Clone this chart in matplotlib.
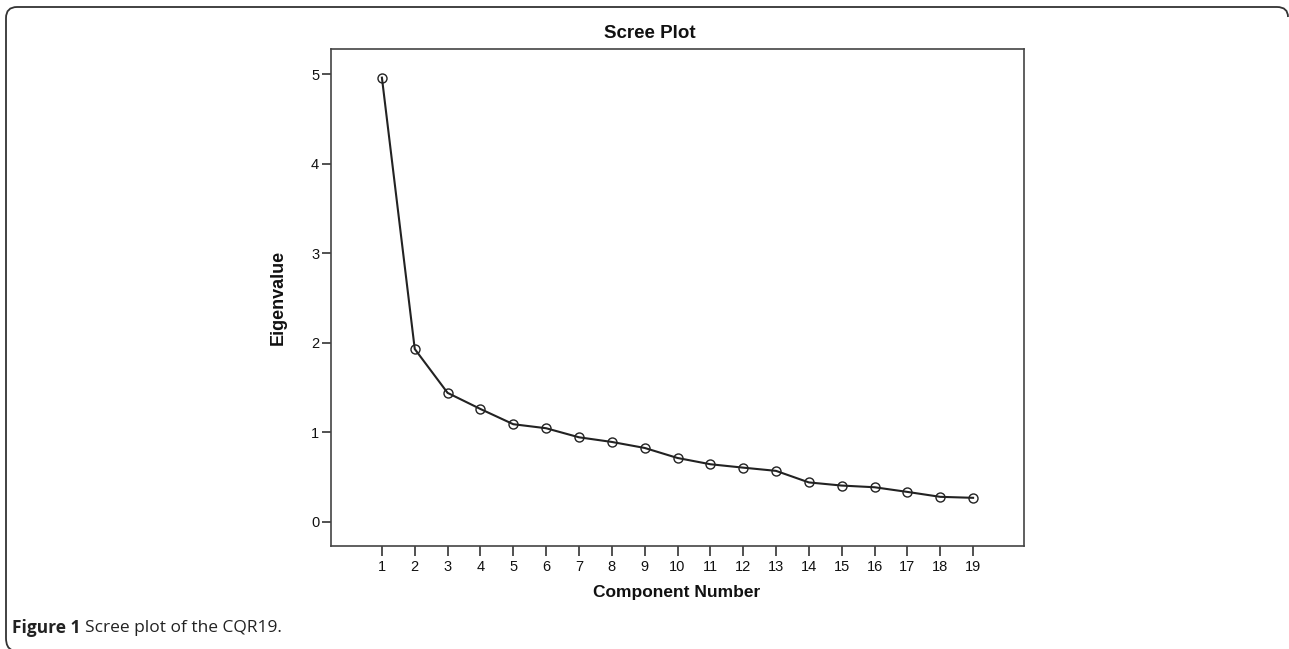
import matplotlib
matplotlib.use("Agg")
import matplotlib.pyplot as plt
from matplotlib.path import Path
from matplotlib.patches import PathPatch

# Scree plot data (eigenvalues per component)
components = list(range(1, 20))
eigenvalues = [4.96, 1.93, 1.44, 1.26, 1.09, 1.045, 0.944, 0.892, 0.825, 0.713,
               0.643, 0.605, 0.569, 0.44, 0.405, 0.386, 0.334, 0.279, 0.268]
tick_labels = [str(c) for c in components]

W, H = 1289, 649
fig = plt.figure(figsize=(W / 100, H / 100), dpi=100)
fig.patch.set_facecolor("white")

# axes box in pixel coordinates
left, right, top, bottom = 331, 1024, 49, 546
ax = fig.add_axes([left / W, 1 - bottom / H, (right - left) / W, (bottom - top) / H])

dark = "#222222"
ax.plot(components, eigenvalues, color=dark, linewidth=1.5,
        marker="o", markersize=6.5, markerfacecolor="none",
        markeredgecolor=dark, markeredgewidth=1.0)

ax.set_xlim(-0.55, 20.55)
ax.set_ylim(-0.27, 5.28)
ax.set_xticks(components)
ax.set_xticklabels(tick_labels)
ax.set_yticks([0, 1, 2, 3, 4, 5])

for s in ax.spines.values():
    s.set_color("#444444")
    s.set_linewidth(1.2)

ax.tick_params(axis="x", direction="out", length=7, width=1.2, color="#333333",
               pad=3, labelsize=10.5, labelcolor="#111111")
ax.tick_params(axis="y", direction="out", length=6.5, width=1.2, color="#333333",
               pad=2, labelsize=10.5, labelcolor="#111111")
for lab in ax.get_xticklabels() + ax.get_yticklabels():
    lab.set_family("Liberation Sans")

# title and axis labels (placed in pixel positions)
fig.text(650 / W, 1 - 33 / H, "Scree Plot", ha="center", va="center",
         fontsize=13.5, fontweight="bold", family="Liberation Sans", color="#111111")
fig.text(278 / W, 1 - 297 / H, "Eigenvalue", ha="center", va="center", rotation=90,
         fontsize=13, fontweight="bold", family="Liberation Sans", color="#111111")
fig.text(677 / W, 1 - 592 / H, "Component Number", ha="center", va="center",
         fontsize=12.5, fontweight="bold", family="Liberation Sans", color="#111111")

# caption
cap_y = 1 - 628 / H
t1 = fig.text(12 / W, cap_y, "Figure 1", ha="left", va="center",
              fontsize=12.5, fontweight="bold", family="Open Sans", color="#222222")
fig.canvas.draw()
bb = t1.get_window_extent()
fig.text((bb.x1 + 5) / W, cap_y, "Scree plot of the CQR19.", ha="left", va="center",
         fontsize=12.5, fontweight="medium", family="Open Sans", color="#222222")

# rounded frame (top and left edges)
def px(x, y):
    return (x / W, 1 - y / H)

verts = [px(1288, 17), px(1288, 7), px(1277, 7),
         px(17, 7), px(6, 7), px(6, 18),
         px(6, 638), px(6, 648), px(12, 650)]
codes = [Path.MOVETO, Path.CURVE3, Path.CURVE3,
         Path.LINETO, Path.CURVE3, Path.CURVE3,
         Path.LINETO, Path.CURVE3, Path.CURVE3]
frame = PathPatch(Path(verts, codes), transform=fig.transFigure, fill=False,
                  edgecolor="#333333", linewidth=1.3)
fig.patches.append(frame)

fig.savefig("out.png", dpi=100)
